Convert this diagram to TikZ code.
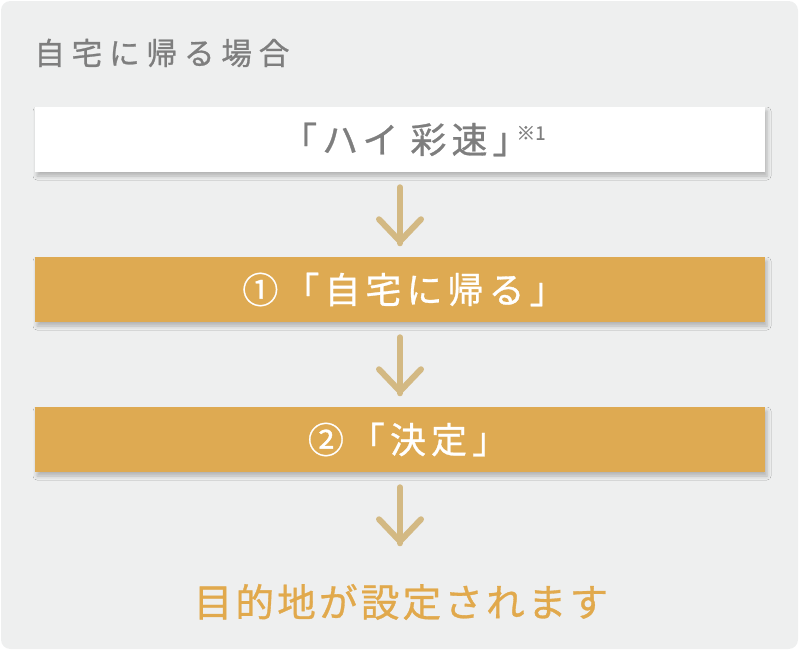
\documentclass[tikz,border=0pt]{standalone}
\usepackage{fontspec}
\newfontfamily\jptitle[LetterSpace=22,FakeBold=0.8]{Noto Sans CJK JP}
\newfontfamily\jpbox[LetterSpace=14,FakeBold=0.8]{Noto Sans CJK JP}
\newfontfamily\jpend[LetterSpace=8,FakeBold=0.8]{Noto Sans CJK JP}
\newfontfamily\jp[FakeBold=0.8]{Noto Sans CJK JP}
\usetikzlibrary{shadows.blur,calc}
\definecolor{bg}{HTML}{EEEFEF}
\definecolor{gold}{HTML}{DEAA52}
\definecolor{goldtxt}{HTML}{E1A94C}
\definecolor{arrowc}{HTML}{D3B983}
\definecolor{txtgray}{HTML}{7E7E7E}
\tikzset{
  stepbox/.style={minimum width=547.5pt, minimum height=48.75pt, inner sep=0pt,
    blur shadow={shadow xshift=1.5pt, shadow yshift=-3pt, shadow blur radius=3pt, shadow opacity=25},
    font=\jpbox\fontsize{27}{27}\selectfont},
  arr/.style={draw=arrowc, line width=4.5pt, line cap=round, line join=round},
}
\begin{document}
\begin{tikzpicture}[x=0.75pt,y=-0.75pt]
\useasboundingbox (0,0) rectangle (800,651);
\fill[bg, rounded corners=7pt] (1,1) rectangle (798,649);
\node[anchor=west, text=txtgray, inner sep=0pt, font=\jptitle\fontsize{23}{23}\selectfont] (title) at (34,53) {自宅に帰る場合};
\node[stepbox, fill=white, text=txtgray] (b1) at (400,139.5) {\hspace*{20pt}「ハイ\hspace{9pt}彩速」\kern-9pt\raisebox{10pt}{\jp\fontsize{14}{14}\selectfont ※1}};
\node[stepbox, fill=gold, text=white] (b2) at (400,289.5) {\hspace*{6pt}①「自宅に帰る」};
\node[stepbox, fill=gold, text=white] (b3) at (400,439.5) {\hspace*{12pt}②「決定」};
\node[text=goldtxt, inner sep=0pt, font=\jpend\fontsize{29}{29}\selectfont] (end) at (401,602) {目的地が設定されます};
\foreach \a/\b in {b1/b2, b2/b3, b3/end}{
  \draw[arr] ($(\a.south)+(0,15)$) -- ($(\a.south)+(0,71)$);
  \draw[arr] ($(\a.south)+(-21,47)$) -- ($(\a.south)+(0,69)$) -- ($(\a.south)+(21,47)$);
}
\end{tikzpicture}
\end{document}
